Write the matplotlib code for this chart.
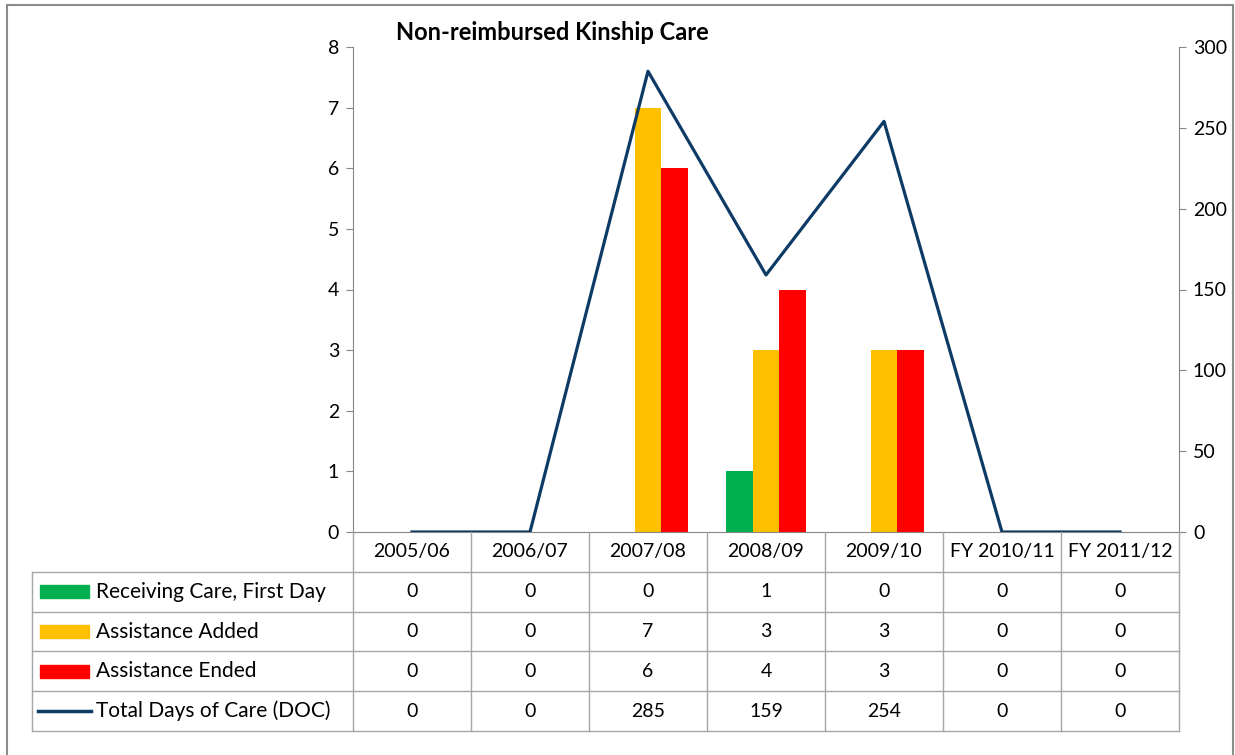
import matplotlib
matplotlib.use('Agg')
import matplotlib.pyplot as plt
from matplotlib.patches import Rectangle

plt.rcParams['font.family'] = ['Lato', 'DejaVu Sans']

years = ['2005/06', '2006/07', '2007/08', '2008/09', '2009/10', 'FY 2010/11', 'FY 2011/12']
first_day = [0, 0, 0, 1, 0, 0, 0]
added = [0, 0, 7, 3, 3, 0, 0]
ended = [0, 0, 6, 4, 3, 0, 0]
doc = [0, 0, 285, 159, 254, 0, 0]

series_names = ['Receiving Care, First Day', 'Assistance Added', 'Assistance Ended',
                'Total Days of Care (DOC)']
GREEN, ORANGE, RED, NAVY = '#00B050', '#FFC000', '#FF0000', '#0E3A66'
GRID = '#A6A6A6'
AXC = '#868686'

W, H = 1235, 755
fig = plt.figure(figsize=(W / 100, H / 100), dpi=100)

# outer chart border
fig.patches.append(Rectangle((7 / W, -0.05), 1226 / W, 1 - 5 / H + 0.05,
                             transform=fig.transFigure, fill=False,
                             edgecolor='#8C8C8C', lw=1.5, zorder=-1))

ax = fig.add_axes([353 / W, 1 - 532 / H, 826 / W, 485 / H])
x = list(range(len(years)))
bw = 0.225
ax.bar([i - bw for i in x], first_day, bw, color=GREEN)
ax.bar(x, added, bw, color=ORANGE)
ax.bar([i + bw for i in x], ended, bw, color=RED)
ax.set_xlim(-0.5, 6.5)
ax.set_ylim(0, 8)
ax.set_yticks(range(0, 9))
ax.set_xticks([])
for s in ['top', 'right']:
    ax.spines[s].set_visible(False)
for s in ['left', 'bottom']:
    ax.spines[s].set_color(AXC)
ax.tick_params(axis='y', colors=AXC, labelcolor='black', labelsize=14,
               length=5, pad=5)

ax2 = ax.twinx()
ax2.plot(x, doc, color=NAVY, lw=2.3)
ax2.set_ylim(0, 300)
ax2.set_yticks(range(0, 301, 50))
for s in ['top', 'left', 'bottom']:
    ax2.spines[s].set_visible(False)
ax2.spines['right'].set_color(AXC)
ax2.tick_params(axis='y', colors=AXC, labelcolor='black', labelsize=14,
                length=5, pad=5)

fig.text(552 / W, 1 - 32 / H, 'Non-reimbursed Kinship Care', ha='center',
         va='center', fontsize=17, fontweight='bold')

# data table below the plot
tax = fig.add_axes([353 / W, 1 - 731 / H, 826 / W, 199 / H])
tax.set_xlim(-0.5, 6.5)
tax.set_ylim(5, 0)
tax.axis('off')
col_px = 826 / 7
x_left = -0.5 - 321 / col_px

for k in range(8):
    tax.plot([k - 0.5, k - 0.5], [0, 5], color=GRID, lw=1, clip_on=False)
tax.plot([x_left, x_left], [1, 5], color=GRID, lw=1, clip_on=False)
for r in range(1, 6):
    tax.plot([x_left, 6.5], [r, r], color=GRID, lw=1, clip_on=False)

for i, yr in enumerate(years):
    tax.text(i, 0.5, yr, ha='center', va='center', fontsize=14)

rows = [first_day, added, ended, doc]
colors = [GREEN, ORANGE, RED, NAVY]
sw0 = -0.5 - (353 - 40) / col_px
sw1 = -0.5 - (353 - 89) / col_px
tx = -0.5 - (353 - 96) / col_px
for r, (vals, name, c) in enumerate(zip(rows, series_names, colors)):
    yc = r + 1.5
    for i, v in enumerate(vals):
        tax.text(i, yc, str(v), ha='center', va='center', fontsize=14)
    if r < 3:
        tax.add_patch(Rectangle((sw0, yc - 0.17), sw1 - sw0, 0.34, color=c,
                                clip_on=False))
    else:
        tax.plot([sw0 - 0.02, sw1 + 0.02], [yc, yc], color=c, lw=2.5,
                 clip_on=False)
    tax.text(tx, yc, name, ha='left', va='center', fontsize=15)

fig.savefig('out.png', dpi=100)
